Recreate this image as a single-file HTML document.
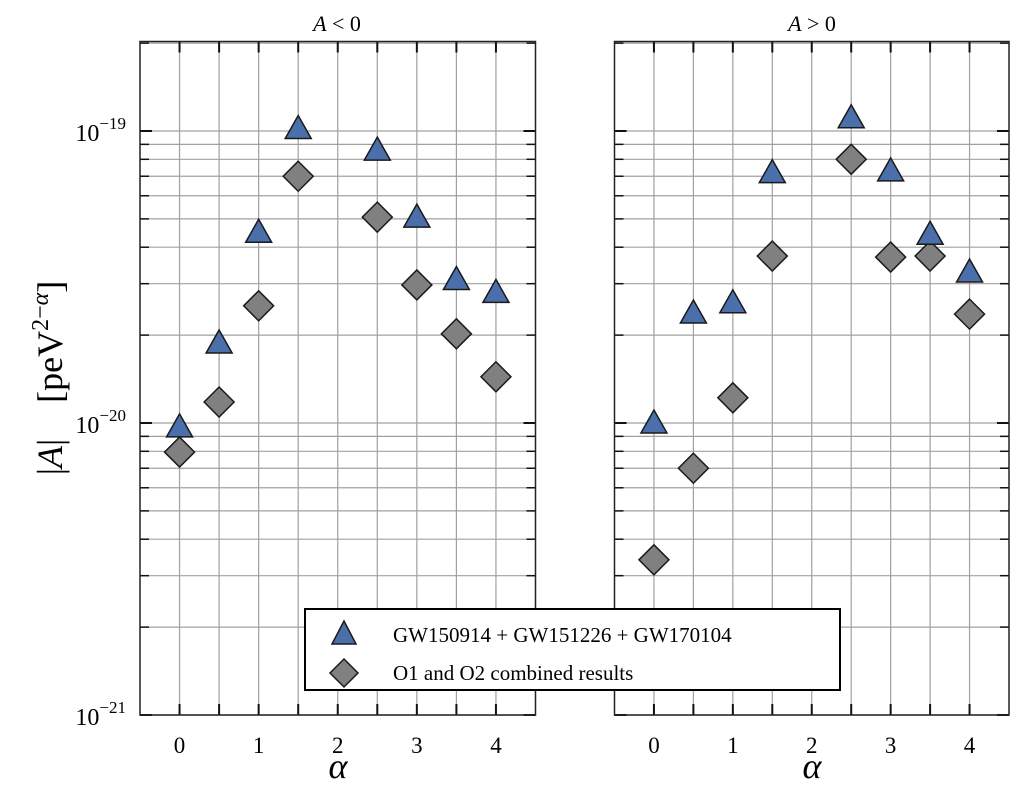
<!DOCTYPE html>
<html><head><meta charset="utf-8"><style>
html,body{margin:0;padding:0;background:#fff;}
svg{display:block;font-family:"Liberation Serif",serif;}
</style></head><body>
<svg id="chart" width="1024" height="788" xmlns="http://www.w3.org/2000/svg">
<g id="grid"></g>
<g id="axes"></g>
<g id="marks"></g>
<text transform="translate(62,378) rotate(-90)" text-anchor="middle" font-size="36" xml:space="preserve">|<tspan font-style="italic">A</tspan>|    [peV<tspan font-size="24" dy="-14">2−</tspan><tspan font-size="24" font-style="italic">α</tspan><tspan dy="14">]</tspan></text>
<text x="337" y="31" text-anchor="middle" font-size="22"><tspan font-style="italic">A</tspan> &lt; 0</text>
<text x="812" y="31" text-anchor="middle" font-size="22"><tspan font-style="italic">A</tspan> &gt; 0</text>
<text x="338" y="778" text-anchor="middle" font-size="36" font-style="italic">α</text>
<text x="812" y="778" text-anchor="middle" font-size="36" font-style="italic">α</text>
<g id="legend">
<rect x="305" y="609" width="535" height="81" fill="#fff" stroke="#000" stroke-width="2"/>
<polygon points="344,621 332,644 356,644" fill="#4a6fab" stroke="#1a1a1a" stroke-width="1.5"/>
<text x="393" y="642" font-size="21">GW150914 + GW151226 + GW170104</text>
<polygon points="344,659 358,673 344,687 330,673" fill="#808080" stroke="#1a1a1a" stroke-width="1.5"/>
<text x="393" y="680" font-size="21">O1 and O2 combined results</text>
</g>
</svg>
<script>
const alphas = [0, 0.5, 1, 1.5, 2.5, 3, 3.5, 4];
const leftGW = [9.7e-21, 1.88e-20, 4.5e-20, 1.02e-19, 8.6e-20, 5.07e-20, 3.1e-20, 2.8e-20];
const leftO1O2 = [7.95e-21, 1.18e-20, 2.52e-20, 7.0e-20, 5.07e-20, 2.97e-20, 2.02e-20, 1.44e-20];
const rightGW = [1.0e-20, 2.38e-20, 2.58e-20, 7.2e-20, 1.11e-19, 7.3e-20, 4.43e-20, 3.29e-20];
const rightO1O2 = [3.4e-21, 7.0e-21, 1.22e-20, 3.73e-20, 8.0e-20, 3.7e-20, 3.73e-20, 2.36e-20];
const xTicks = [0, 1, 2, 3, 4];
const yDecades = [-21, -20, -19];

const NS = "http://www.w3.org/2000/svg";
const plotTop = 41.5, plotBot = 715, xmin = -0.5, xmax = 4.5;
const ymin = -21, ymax = -21 + (plotBot - plotTop) / 292;
function yScale(v){ return plotBot - (Math.log10(v) - ymin) / (ymax - ymin) * (plotBot - plotTop); }
function mk(tag, attrs, parent){ const e = document.createElementNS(NS, tag); for (const k in attrs) e.setAttribute(k, attrs[k]); parent.appendChild(e); return e; }
const gridG = document.getElementById('grid'), axesG = document.getElementById('axes'), marksG = document.getElementById('marks');

function panel(name, L, R, gw, o1, showY){
  const xs = v => L + (v - xmin) / (xmax - xmin) * (R - L);
  for (let a = 0; a <= 4; a += 0.5){
    const l = mk('line', {x1: xs(a), x2: xs(a), y1: plotTop, y2: plotBot, stroke: '#a0a0a0', 'stroke-width': 1.2}, gridG);
    
    
    mk('line', {x1: xs(a), x2: xs(a), y1: plotBot, y2: plotBot - 11, stroke: '#111', 'stroke-width': 2}, axesG);
    mk('line', {x1: xs(a), x2: xs(a), y1: plotTop, y2: plotTop + 11, stroke: '#111', 'stroke-width': 2}, axesG);
  }
  for (const d of yDecades){
    for (let m = 1; m <= 9; m++){
      const v = m * Math.pow(10, d); const y = yScale(v);
      if (y < plotTop - 0.5) continue;
      const gl = mk('line', {x1: L, x2: R, y1: y, y2: y, stroke: '#a0a0a0', 'stroke-width': 1.2}, gridG);
      
      
      const len = m === 1 ? 12 : 9, w = m === 1 ? 2 : 1.5;
      mk('line', {x1: L, x2: L + len, y1: y, y2: y, stroke: '#111', 'stroke-width': w}, axesG);
      mk('line', {x1: R, x2: R - len, y1: y, y2: y, stroke: '#111', 'stroke-width': w}, axesG);
    }
    if (showY){
      const t = mk('text', {x: 126, y: yScale(Math.pow(10, d)) + 10, 'text-anchor': 'end', 'font-size': 24}, axesG);
      
      
      t.appendChild(document.createTextNode('10'));
      const sp = mk('tspan', {'font-size': 17, dy: -12}, t);
      sp.textContent = '−' + (-d);
    }
  }
  const fr = mk('rect', {x: L, y: plotTop, width: R - L, height: plotBot - plotTop, fill: 'none', stroke: '#222', 'stroke-width': 1.5}, axesG);
  
  
  for (const t of xTicks){
    const tx = mk('text', {x: xs(t), y: plotBot + 38, 'text-anchor': 'middle', 'font-size': 23}, axesG);
    
    
    tx.textContent = t;
  }
  alphas.forEach((a, i) => {
    const x = xs(a), y1 = yScale(o1[i]);
    const dm = mk('polygon', {points: `${x},${y1-15} ${x+15},${y1} ${x},${y1+15} ${x-15},${y1}`, fill: '#808080', stroke: '#1a1a1a', 'stroke-width': 1.5}, marksG);
    
    
    const y2 = yScale(gw[i]);
    const tr = mk('polygon', {points: `${x},${y2-13} ${x+13},${y2+10} ${x-13},${y2+10}`, fill: '#4a6fab', stroke: '#1a1a1a', 'stroke-width': 1.5}, marksG);
    
    
  });
}
panel('left', 140, 535.5, leftGW, leftO1O2, true);
panel('right', 614.5, 1009, rightGW, rightO1O2, false);
document.getElementById('chart').appendChild(document.getElementById('legend'));
</script>
</body></html>
